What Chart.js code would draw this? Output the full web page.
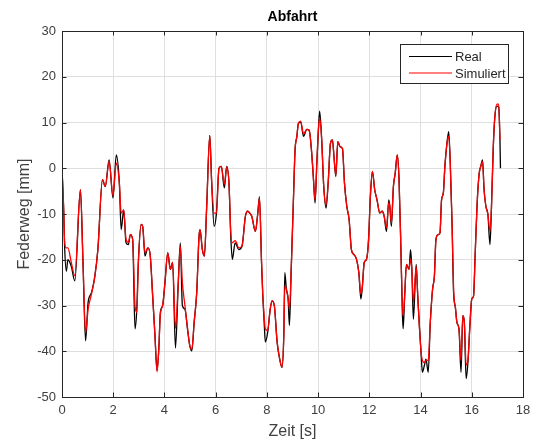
<!DOCTYPE html>
<html>
<head>
<meta charset="utf-8">
<script src="https://cdn.jsdelivr.net/npm/chart.js@4"></script>
<style>
  html, body { margin: 0; padding: 0; background: #fff; }
</style>
</head>
<body>
<canvas id="myChart" width="539" height="443"></canvas>
<script>
// values (Zeit in s, Federweg in mm)
const zeit = [0, 0.07, 0.1, 0.17, 0.23, 0.36, 0.5, 0.72, 0.82, 0.92, 1.02, 1.15, 1.28, 1.4, 1.58, 1.69, 1.84, 1.99, 2.12, 2.24, 2.31, 2.41, 2.5, 2.59, 2.67, 2.76, 2.85, 2.92, 2.98, 3.09, 3.15, 3.24, 3.35, 3.44, 3.54, 3.63, 3.71, 3.78, 3.84, 3.93, 4.02, 4.13, 4.23, 4.32, 4.43, 4.54, 4.62, 4.7, 4.8, 4.9, 4.99, 5.07, 5.16, 5.26, 5.35, 5.39, 5.48, 5.56, 5.65, 5.77, 5.84, 5.94, 6.03, 6.13, 6.22, 6.34, 6.43, 6.52, 6.59, 6.65, 6.76, 6.81, 6.9, 7.03, 7.16, 7.25, 7.33, 7.41, 7.55, 7.64, 7.71, 7.79, 7.84, 7.9, 7.94, 8.03, 8.13, 8.2, 8.29, 8.4, 8.5, 8.59, 8.66, 8.7, 8.76, 8.83, 8.88, 8.95, 9.04, 9.1, 9.17, 9.23, 9.32, 9.43, 9.56, 9.65, 9.75, 9.82, 9.88, 9.95, 10.01, 10.06, 10.14, 10.22, 10.31, 10.4, 10.48, 10.56, 10.62, 10.69, 10.77, 10.86, 10.95, 11.03, 11.12, 11.21, 11.3, 11.39, 11.5, 11.59, 11.67, 11.73, 11.8, 11.89, 11.97, 12.04, 12.12, 12.21, 12.3, 12.41, 12.5, 12.58, 12.67, 12.76, 12.8, 12.86, 12.94, 13.01, 13.09, 13.16, 13.23, 13.29, 13.32, 13.38, 13.45, 13.55, 13.61, 13.66, 13.72, 13.83, 13.89, 13.96, 14.02, 14.07, 14.15, 14.21, 14.3, 14.38, 14.47, 14.54, 14.6, 14.69, 14.76, 14.82, 14.89, 14.95, 15.03, 15.1, 15.16, 15.23, 15.29, 15.36, 15.42, 15.5, 15.58, 15.65, 15.71, 15.78, 15.85, 15.92, 16, 16.07, 16.13, 16.21, 16.29, 16.35, 16.42, 16.48, 16.55, 16.63, 16.71, 16.77, 16.84, 16.9, 16.98, 17.05, 17.1, 17.12];

const real = [0, -9.8, -16.7, -22.5, -20, -21.4, -24.6, -4.7, -20.6, -37.7, -29.3, -27.2, -23.6, -17.8, -2.5, -4, 1.8, -6.5, 2.9, -3.3, -13.4, -9.1, -16.3, -16.7, -14.5, -15.6, -35.1, -30.8, -20.6, -12.3, -12.7, -19.2, -17.4, -18.8, -27.9, -36.6, -44.2, -39.5, -31.5, -30, -25, -18.5, -22.1, -20.6, -39.3, -25, -16.3, -30, -30.8, -35.1, -38.8, -39.9, -33.7, -27.2, -14.9, -13.4, -17.8, -19.2, -8.3, 7.2, -2.5, -12.7, -9.8, 0, 0.4, -4.3, 0.4, -3.3, -14.9, -19.9, -16.3, -16.7, -17.8, -17, -10.5, -9.4, -9.8, -10.5, -13.8, -10.1, -6.2, -20.6, -27.9, -34.4, -38, -35.9, -30.8, -29, -30, -38, -41.7, -43.5, -36.6, -22.8, -26.4, -28.6, -34.4, -22.1, -6.2, 4, 6.9, 9.8, 10.1, 7, 8.5, 8.3, 3.3, -2.5, -7.6, 1.1, 8.3, 12.5, 6.2, -4, -8.7, -2.5, 5.4, 6.2, 2.5, -1.8, 5.8, 4.7, 4.3, -3.3, -8.3, -11.2, -17.8, -18.8, -19.9, -22.8, -28.6, -25.7, -20.6, -19.9, -15.6, -6.2, -0.7, -4.7, -6.9, -9.8, -9.4, -10.5, -13.8, -6.9, -8.3, -12.7, -4, -1.1, 2.9, -2.5, -17, -31.5, -35.1, -27.9, -21, -22.1, -17.8, -22.1, -33, -21, -27.9, -35.1, -40.2, -44.6, -43.1, -41.7, -44.6, -33.7, -26.4, -23.6, -15.6, -14.5, -14.1, -6.9, -5.4, 0.4, 5.4, 8, 1.1, -12, -27.2, -30.4, -33.7, -35.1, -44.6, -32.2, -33.7, -46, -42.4, -35.1, -28.6, -27.9, -19.2, -7.6, -1.1, 0.4, 1.8, -4.7, -8.3, -10.1, -16.7, -8.3, 4.7, 11.2, 13.6, 13.4, 6.2, 0];

const simuliert = [0, -9.8, -16, -17.4, -17.4, -20.5, -23.5, -4.7, -20.6, -36, -30.8, -27.5, -23.8, -17.8, -2.5, -4, 1.5, -6, 1.1, -3.3, -9.8, -9.1, -15.5, -16.2, -14.5, -15.6, -30, -31.5, -21, -12.3, -12.7, -18.5, -17.4, -18.8, -27.9, -36.6, -44.5, -39.5, -32, -30, -25, -18.5, -22.1, -20.6, -35, -25, -17, -25, -30, -35, -38.8, -39.5, -33.7, -27.2, -14.9, -13.4, -17.8, -19.2, -8.3, 7.2, -2.5, -9.8, -9.8, 0, 0.4, -3.5, 0.2, -3.3, -14, -16.3, -15.8, -16.2, -17.4, -17, -10.5, -9.4, -9.8, -10.5, -13.8, -10.1, -6.5, -20, -27.5, -33, -35.1, -35.5, -30.8, -29, -30, -38, -41.7, -43.5, -36.6, -25.7, -26.4, -28.6, -30.8, -22.1, -6.2, 4, 6.9, 9.8, 10.3, 7.5, 8.5, 8.3, 3.3, -2.5, -7, 1.1, 8.3, 11, 6.2, -4, -8, -2.5, 5.4, 6.2, 2.5, -1.5, 5.8, 4.7, 4.3, -3.3, -8.3, -11.2, -17.8, -18.8, -19.9, -22.8, -27.5, -25.7, -20.6, -19.9, -15.6, -6.2, -0.7, -4.7, -6.9, -9.8, -9.4, -10.5, -13, -7.5, -8.3, -12, -4, -1.1, 2.9, -2.5, -17, -30.5, -32.2, -27.9, -21, -22.1, -19.9, -22.1, -29.3, -21.5, -27.9, -35.1, -40.2, -42, -42.5, -42, -42, -33.7, -26.4, -23.6, -15.6, -14.5, -14.1, -6.9, -5.4, 0.4, 5.4, 7, 1.1, -12, -26.5, -30.4, -33.7, -35.1, -42, -32.2, -33.7, -43, -42, -35.1, -28.6, -27.9, -19.2, -7.6, -1.1, 0.4, 1.5, -4.7, -8.3, -10.1, -13.8, -8.3, 4.7, 11.2, 14, 14, 6.2, null];

const xTicks = [0, 2, 4, 6, 8, 10, 12, 14, 16, 18];
const yTicks = [-50, -40, -30, -20, -10, 0, 10, 20, 30];

const axisColor = "#262626";
const labelColor = "#404040";
const gridColor = "#dfdfdf";
const fontFamily = "'Liberation Sans', Arial, Helvetica, sans-serif";

function toPoints(values) {
  const pts = [];
  for (let i = 0; i < zeit.length; i++) {
    pts.push({ x: zeit[i], y: values[i] });
  }
  return pts;
}

// box, inward ticks, title and legend in MATLAB style
const matlabLook = {
  id: "matlabLook",
  afterDraw(chart) {
    const ctx = chart.ctx;
    const area = chart.chartArea;
    const xs = chart.scales.x;
    const ys = chart.scales.y;
    const tl = 4.5;
    ctx.save();
    ctx.strokeStyle = axisColor;
    ctx.lineWidth = 1;
    ctx.beginPath();
    xTicks.forEach((t) => {
      const px = Math.round(xs.getPixelForValue(t)) + 0.5;
      ctx.moveTo(px, area.bottom);
      ctx.lineTo(px, area.bottom - tl);
      ctx.moveTo(px, area.top);
      ctx.lineTo(px, area.top + tl);
    });
    yTicks.forEach((v) => {
      const py = Math.round(ys.getPixelForValue(v)) + 0.5;
      ctx.moveTo(area.left, py);
      ctx.lineTo(area.left + tl, py);
      ctx.moveTo(area.right, py);
      ctx.lineTo(area.right - tl, py);
    });
    ctx.stroke();
    ctx.strokeRect(Math.round(area.left) + 0.5, Math.round(area.top) + 0.5,
      Math.round(area.right - area.left), Math.round(area.bottom - area.top));

    // title
    ctx.fillStyle = "#000";
    ctx.font = "bold 14px " + fontFamily;
    ctx.textAlign = "center";
    ctx.textBaseline = "middle";
    ctx.fillText("Abfahrt", (area.left + area.right) / 2, 17);

    // legend
    const lx = 400.5, ly = 44.5, lw = 108, lh = 39;
    ctx.fillStyle = "#fff";
    ctx.fillRect(lx, ly, lw, lh);
    ctx.strokeStyle = axisColor;
    ctx.strokeRect(lx, ly, lw, lh);
    ctx.font = "13px " + fontFamily;
    ctx.textAlign = "left";
    const rows = [56.5, 73];
    chart.data.datasets.forEach((ds, i) => {
      ctx.strokeStyle = ds.borderColor;
      ctx.lineWidth = 1.2;
      ctx.beginPath();
      ctx.moveTo(409, rows[i]);
      ctx.lineTo(452, rows[i]);
      ctx.stroke();
      ctx.fillStyle = axisColor;
      ctx.fillText(ds.label, 455, rows[i] + 1);
    });
    ctx.restore();
  },
};

new Chart(document.getElementById("myChart"), {
  type: "line",
  data: {
    datasets: [
      {
        label: "Real",
        data: toPoints(real),
        borderColor: "#000000",
        borderWidth: 1.3,
        pointRadius: 0,
        cubicInterpolationMode: "monotone",
        order: 2,
      },
      {
        label: "Simuliert",
        data: toPoints(simuliert),
        borderColor: "#ff0000",
        borderWidth: 1.3,
        pointRadius: 0,
        cubicInterpolationMode: "monotone",
        order: 1,
      },
    ],
  },
  options: {
    responsive: false,
    animation: false,
    devicePixelRatio: 1,
    layout: { padding: { left: 0, right: 16, top: 31, bottom: 0 } },
    plugins: {
      legend: { display: false },
      tooltip: { enabled: false },
    },
    scales: {
      x: {
        type: "linear",
        min: 0,
        max: 18,
        afterBuildTicks: (scale) => {
          scale.ticks = xTicks.map((v) => ({ value: v }));
        },
        afterFit: (scale) => {
          scale.height = 46;
        },
        ticks: {
          color: labelColor,
          padding: 6,
          maxRotation: 0,
          font: { family: fontFamily, size: 13 },
        },
        grid: { color: gridColor, drawTicks: false },
        border: { color: axisColor, width: 1 },
        title: {
          display: true,
          text: "Zeit [s]",
          color: labelColor,
          padding: { top: 0, bottom: 1.5 },
          font: { family: fontFamily, size: 16 },
        },
      },
      y: {
        type: "linear",
        min: -50,
        max: 30,
        afterBuildTicks: (scale) => {
          scale.ticks = yTicks.map((v) => ({ value: v }));
        },
        afterFit: (scale) => {
          scale.width = 62;
        },
        ticks: {
          color: labelColor,
          padding: 6,
          font: { family: fontFamily, size: 13 },
        },
        grid: { color: gridColor, drawTicks: false },
        border: { color: axisColor, width: 1 },
        title: {
          display: true,
          text: "Federweg [mm]",
          color: labelColor,
          padding: { top: 14.5, bottom: 0 },
          font: { family: fontFamily, size: 16 },
        },
      },
    },
  },
  plugins: [matlabLook],
});
</script>
</body>
</html>
